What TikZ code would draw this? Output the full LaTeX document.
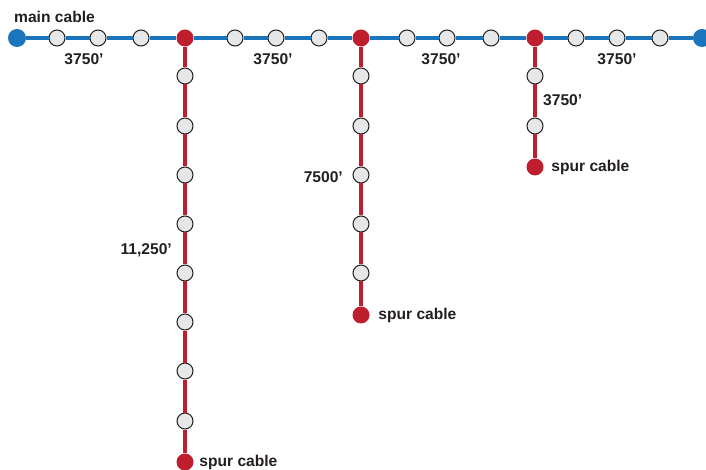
\documentclass[tikz,border=0pt]{standalone}
\usepackage{fontspec}
\setmainfont{Liberation Sans}
\usepackage{xcolor}
\usetikzlibrary{positioning}
\definecolor{mainblue}{HTML}{1B75BC}
\definecolor{spurred}{HTML}{BE1E2D}
\definecolor{tapgray}{HTML}{E6E7E8}
\definecolor{ink}{HTML}{231F20}

\begin{document}
\begin{tikzpicture}[x=1bp, y=-1bp, font=\fontsize{15.6bp}{18bp}\selectfont\bfseries,
  tap/.style={circle, draw=ink, fill=tapgray, line width=1bp, minimum size=16bp, inner sep=0pt},
  junc/.style={circle, fill=spurred, minimum size=17bp, inner sep=0pt},
  term/.style={circle, fill=mainblue, minimum size=18bp, inner sep=0pt},
  mainln/.style={draw=mainblue, line width=4.5bp},
  spurln/.style={draw=spurred, line width=4bp},
  lbl/.style={text=ink, inner sep=0pt}]
\useasboundingbox (0,0) rectangle (706,470);
% main cable
\node[term] (L) at (17,38) {}; \node[tap] (a1) at (57,38) {}; \node[tap] (a2) at (98,38) {}; \node[tap] (a3) at (141,38) {};
\node[junc] (J1) at (185,38) {}; \node[tap] (b1) at (235,38) {}; \node[tap] (b2) at (276,38) {}; \node[tap] (b3) at (319,38) {};
\node[junc] (J2) at (361,38) {}; \node[tap] (c1) at (407,38) {}; \node[tap] (c2) at (447,38) {}; \node[tap] (c3) at (491,38) {};
\node[junc] (J3) at (535,38) {}; \node[tap] (d1) at (576,38) {}; \node[tap] (d2) at (617,38) {}; \node[tap] (d3) at (660,38) {};
\node[term] (R) at (702,38) {};
\draw[mainln] (L) -- (a1) -- (a2) -- (a3) -- (J1) -- (b1) -- (b2) -- (b3) -- (J2) -- (c1) -- (c2) -- (c3) -- (J3) -- (d1) -- (d2) -- (d3) -- (R);
% spur 1
\node[tap] (s1a) at (185,76) {}; \node[tap] (s1b) at (185,126) {}; \node[tap] (s1c) at (185,175) {}; \node[tap] (s1d) at (185,224) {};
\node[tap] (s1e) at (185,273) {}; \node[tap] (s1f) at (185,322) {}; \node[tap] (s1g) at (185,371) {}; \node[tap] (s1h) at (185,421) {};
\node[junc] (E1) at (185,462) {};
\draw[spurln] (J1) -- (s1a) -- (s1b) -- (s1c) -- (s1d) -- (s1e) -- (s1f) -- (s1g) -- (s1h) -- (E1);
% spur 2
\node[tap] (s2a) at (361,76) {}; \node[tap] (s2b) at (361,126) {}; \node[tap] (s2c) at (361,175) {}; \node[tap] (s2d) at (361,224) {};
\node[tap] (s2e) at (361,273) {};
\node[junc] (E2) at (361,315) {};
\draw[spurln] (J2) -- (s2a) -- (s2b) -- (s2c) -- (s2d) -- (s2e) -- (E2);
% spur 3
\node[tap] (s3a) at (535,76) {}; \node[tap] (s3b) at (535,126) {};
\node[junc] (E3) at (535,167) {};
\draw[spurln] (J3) -- (s3a) -- (s3b) -- (E3);
% labels
\node[lbl, anchor=base west] (tmain) at (14,23) {main cable};
\node[lbl] (la) at (84,59) {3750'}; \node[lbl] (lb) at (273,59) {3750'};
\node[lbl] (lc) at (441,59) {3750'}; \node[lbl] (ld) at (617,59) {3750'};
\node[lbl, anchor=east] (l1) at (172,250) {11,250'};
\node[lbl, anchor=east] (l2) at (343,177) {7500'};
\node[lbl, anchor=west] (l3) at (543,100) {3750'};
\node[lbl, right=5.5bp of E1] (t1) {spur cable};
\node[lbl, right=8.5bp of E2] (t2) {spur cable};
\node[lbl, right=7.5bp of E3] (t3) {spur cable};
\end{tikzpicture}
\end{document}
